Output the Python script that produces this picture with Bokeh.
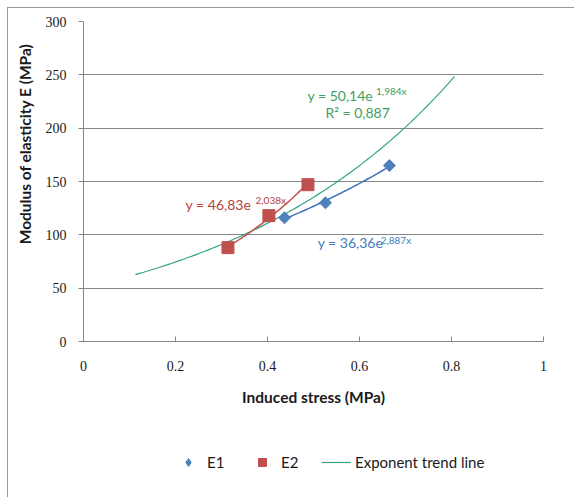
import numpy as np
from bokeh.plotting import figure
from bokeh.layouts import column
from bokeh.models import Label, Legend, LegendItem, FixedTicker, Title
from bokeh.embed import file_html
from bokeh.resources import INLINE

# ---- data ----
e1_stress = [0.437, 0.526, 0.665]
e1_modulus = [116, 130, 165]
e2_stress = [0.314, 0.403, 0.488]
e2_modulus = [88, 118, 147]
# overall exponential trend line, coefficients as printed on the chart
trend_a = 50.14
trend_b = 1.984
trend_x_span = [0.113, 0.807]
x_ticks = [0, 0.2, 0.4, 0.6, 0.8, 1]
y_ticks = [0, 50, 100, 150, 200, 250, 300]
series_names = ["E1", "E2", "Exponent trend line"]

GRID = "#868686"
BLUE = "#4F81BD"
BLUE_LINE = "#3A72B8"
RED = "#C0504D"
GREEN_LINE = "#35A384"
GREEN_TEXT = "#3E9E5F"
BLUE_TEXT = "#3F7DBE"
RED_TEXT = "#B7413E"
TXT = "#1a1a1a"


def exp_fit(x, y, n=60):
    b, ln_a = np.polyfit(np.array(x), np.log(np.array(y, dtype=float)), 1)
    xs = np.linspace(min(x), max(x), n)
    return xs, np.exp(ln_a) * np.exp(b * xs)


# the whole chart sits in a frame offset by 7px + 1px border
p = figure(width=566, height=432, x_range=(0, 1), y_range=(0, 300),
           output_backend="svg", toolbar_location=None,
           min_border_left=75, min_border_right=31,
           min_border_top=13, min_border_bottom=99)
p.outline_line_color = None
p.background_fill_color = "white"
p.border_fill_color = "white"

# grid
p.xgrid.grid_line_color = None
p.ygrid.grid_line_color = GRID
p.ygrid.grid_line_width = 1
p.ygrid.ticker = FixedTicker(ticks=y_ticks)

# axes
p.xaxis.ticker = FixedTicker(ticks=x_ticks)
p.yaxis.ticker = FixedTicker(ticks=y_ticks)
p.xaxis.major_label_overrides = {0: "0", 1: "1"}
for ax in (p.xaxis, p.yaxis):
    ax.axis_line_color = GRID
    ax.major_tick_line_color = GRID
    ax.minor_tick_line_color = None
    ax.major_label_text_font = "Liberation Serif"
    ax.major_label_text_font_size = "14px"
    ax.major_label_text_color = TXT
p.xaxis.major_tick_in = 5
p.xaxis.major_tick_out = 0
p.yaxis.major_tick_in = 0
p.yaxis.major_tick_out = 5
p.xaxis.major_label_standoff = 19
p.yaxis.major_label_standoff = 12

p.xaxis.axis_label = "Induced stress (MPa)"
p.xaxis.axis_label_text_font = "Lato"
p.xaxis.axis_label_text_font_style = "bold"
p.xaxis.axis_label_text_font_size = "15.5px"
p.xaxis.axis_label_text_color = TXT
p.xaxis.axis_label_standoff = 14

# y-axis title (sits above the frame centre, as in the reference)
p.add_layout(Title(text="Modulus of elasticity E (MPa)", align="right",
                   vertical_align="top", offset=22, standoff=14,
                   text_font="Lato", text_font_style="bold",
                   text_font_size="15.5px", text_color=TXT), "left")

# trend lines
gx = np.linspace(trend_x_span[0], trend_x_span[1], 80)
gy = trend_a * np.exp(trend_b * gx)
p.line(gx, gy, line_color=GREEN_LINE, line_width=1.2)

bx, by = exp_fit(e1_stress, e1_modulus)
p.line(bx, by, line_color=BLUE_LINE, line_width=1.5)
rx, ry = exp_fit(e2_stress, e2_modulus)
p.line(rx, ry, line_color=RED, line_width=1.5)

# points
p.scatter(e1_stress, e1_modulus, marker="square", angle=np.pi / 4,
          size=8.5, fill_color=BLUE, line_color=BLUE)
p.scatter(e2_stress, e2_modulus, marker="square", size=12,
          fill_color=RED, line_color=RED)

# equation labels
def lab(x, y, text, color, size):
    p.add_layout(Label(x=x, y=y, text=text, text_align="left",
                       text_baseline="middle", text_font="Lato",
                       text_font_size=size, text_color=color))

lab(0.487, 230.6, "y = 50,14e", GREEN_TEXT, "14px")
lab(0.636, 234.4, "1,984x", GREEN_TEXT, "10px")
lab(0.526, 214.7, "R² = 0,887", GREEN_TEXT, "14px")
lab(0.222, 128.4, "y = 46,83e", RED_TEXT, "14px")
lab(0.374, 132.2, "2,038x", RED_TEXT, "10px")
lab(0.509, 92.8, "y = 36,36e", BLUE_TEXT, "14px")
lab(0.646, 95.6, "2,887x", BLUE_TEXT, "10px")

# ---- legend strip below the chart (legend-only swatches, kept off-range) ----
lg = figure(width=566, height=57, x_range=(0, 1), y_range=(0, 1),
            output_backend="svg", toolbar_location=None,
            x_axis_type=None, y_axis_type=None,
            min_border_left=0, min_border_right=0,
            min_border_top=0, min_border_bottom=0)
lg.outline_line_color = None
lg.xgrid.visible = False
lg.ygrid.visible = False
lg.border_fill_color = "white"
r1 = lg.scatter([-5], [-5], marker="diamond", size=12,
                fill_color=BLUE, line_color=BLUE)
r2 = lg.scatter([-5], [-5], marker="square", size=10, fill_color=RED, line_color=RED)
r3 = lg.line([-5, -4], [-5, -5], line_color=GREEN_LINE, line_width=1.2)

legend = Legend(items=[LegendItem(label=series_names[0], renderers=[r1]),
                       LegendItem(label=series_names[1], renderers=[r2]),
                       LegendItem(label=series_names[2], renderers=[r3])],
                orientation="horizontal", location=(90, 25),
                glyph_width=30, glyph_height=20, label_standoff=4,
                spacing=20, padding=0, margin=0,
                border_line_color=None, background_fill_alpha=0,
                label_text_font="Lato", label_text_font_size="15px",
                label_text_color=TXT)
lg.add_layout(legend, "center")

layout = column(p, lg, spacing=0,
                styles={"margin-left": "7px", "margin-top": "7px",
                        "border-left": "1px solid #9a9a9a",
                        "border-top": "1px solid #9a9a9a"})
open("out.html", "w").write(file_html(layout, INLINE))
